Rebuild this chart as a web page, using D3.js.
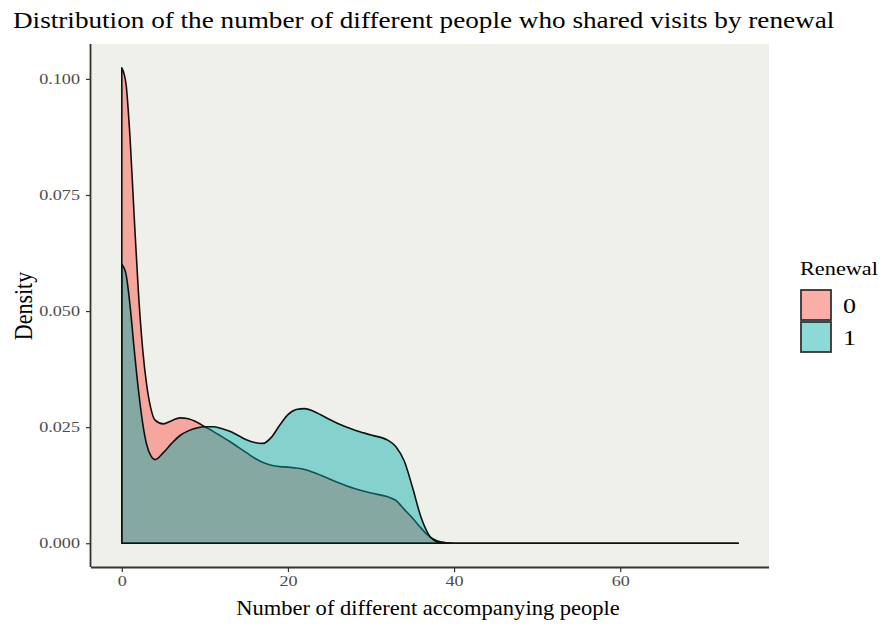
<!DOCTYPE html>
<html>
<head>
<meta charset="utf-8">
<script src="https://cdn.jsdelivr.net/npm/d3@7"></script>
<style>
  html, body { margin: 0; padding: 0; background: #ffffff; }
  svg text { font-family: "Liberation Serif", "DejaVu Serif", serif; }
</style>
</head>
<body>
<div id="chart"></div>
<script>
// ------- data -------
const xs = [0, 0.5, 1, 1.5, 2, 2.5, 3, 3.5, 4, 5, 6, 7, 8, 9, 10, 11, 12, 13, 14, 15, 16, 17, 18, 19, 20,
            21, 22, 23, 24, 26, 28, 30, 32, 33, 34, 35, 36, 37, 38, 39, 40, 50, 60, 74.2];
const density0 = [0.1024, 0.0990, 0.0870, 0.0700, 0.0540, 0.0420, 0.0340, 0.0290, 0.0265, 0.0257, 0.0264,
                  0.0270, 0.0268, 0.0261, 0.0251, 0.0241, 0.0230, 0.0219, 0.0207, 0.0195, 0.0183, 0.0174,
                  0.0168, 0.0165, 0.0164, 0.0162, 0.0159, 0.0153, 0.0146, 0.0131, 0.0118, 0.0108, 0.0100,
                  0.0092, 0.0073, 0.0054, 0.0033, 0.0015, 0.0005, 0.0001, 0, 0, 0, 0];
const density1 = [0.0601, 0.0580, 0.0510, 0.0416, 0.0330, 0.0260, 0.0212, 0.0188, 0.0180, 0.0195, 0.0215,
                  0.0232, 0.0242, 0.0248, 0.0251, 0.0251, 0.0247, 0.0241, 0.0232, 0.0223, 0.0217, 0.0215,
                  0.0228, 0.0254, 0.0277, 0.0288, 0.0290, 0.0285, 0.0276, 0.0258, 0.0244, 0.0233, 0.0222,
                  0.0208, 0.0177, 0.0120, 0.0057, 0.0017, 0.0003, 0.0001, 0, 0, 0, 0];
const groups = ["0", "1"];
const xTicks = [0, 20, 40, 60];
const yTicks = [0, 0.025, 0.05, 0.075, 0.1];

const TITLE = "Distribution of the number of different people who shared visits by renewal";
const X_LABEL = "Number of different accompanying people";
const Y_LABEL = "Density";
const LEGEND_TITLE = "Renewal";

(() => {
  const width = 892, height = 638;
  const panel = { left: 91, right: 769, top: 44, bottom: 567 };
  const fills = { "0": ["#F8766D", 0.6], "1": ["#00AAA8", 0.45] };
  const axisColor = "#333333";
  const tickText = "#4d4d4d";
  // the source image is wider than tall, so glyphs are stretched sideways
  const SX = 1.25;

  const svg = d3.select("#chart").append("svg")
    .attr("width", width).attr("height", height)
    .attr("viewBox", `0 0 ${width} ${height}`);

  // ------- helpers -------
  // place a text at (px,py) and scale it horizontally to the wanted width
  const addText = (str, px, py, size, targetW, anchor = "start") => {
    const t = svg.append("text")
      .attr("text-anchor", anchor)
      .attr("fill", "#000")
      .style("font-size", size + "px")
      .text(str);
    const f = targetW / t.node().getComputedTextLength();
    t.attr("transform", `translate(${px},${py}) scale(${f},1)`);
    return t;
  };

  const xMax = d3.max(xs);
  const yMax = d3.max(density0.concat(density1));

  // ggplot-style 5% expansion
  const x = d3.scaleLinear()
    .domain([-0.05 * xMax, 1.05 * xMax])
    .range([panel.left, panel.right]);
  const y = d3.scaleLinear()
    .domain([-0.05 * yMax, 1.05 * yMax])
    .range([panel.bottom, panel.top]);

  // panel background
  svg.append("rect")
    .attr("x", panel.left).attr("y", panel.top)
    .attr("width", panel.right - panel.left)
    .attr("height", panel.bottom - panel.top)
    .attr("fill", "#F0F0EB");

  // density areas (full outline, like geom_density)
  const series = [
    { key: "0", vals: density0 },
    { key: "1", vals: density1 }
  ];

  const line = d3.line()
    .x(d => x(d[0]))
    .y(d => y(d[1]))
    .curve(d3.curveMonotoneX);

  series.forEach(s => {
    const pts = xs.map((v, i) => [v, s.vals[i]]);
    const top = line(pts);
    const path = `${top}L${x(xs[xs.length - 1])},${y(0)}L${x(xs[0])},${y(0)}Z`;
    svg.append("path")
      .attr("d", path)
      .attr("fill", fills[s.key][0])
      .attr("fill-opacity", fills[s.key][1])
      .attr("stroke", "#111111")
      .attr("stroke-width", 1.6)
      .attr("stroke-linejoin", "round");
  });

  // axes
  const xAxis = svg.append("g")
    .attr("transform", `translate(0,${panel.bottom})`)
    .call(d3.axisBottom(x).tickValues(xTicks).tickSize(5).tickPadding(4).tickFormat(d3.format("d")));
  xAxis.select(".domain").attr("d", `M${panel.left},0.5H${panel.right}`);

  const yAxis = svg.append("g")
    .attr("transform", `translate(${panel.left},0)`)
    .call(d3.axisLeft(y).tickValues(yTicks).tickSize(5).tickPadding(6).tickFormat(d3.format(".3f")));
  yAxis.select(".domain").attr("d", `M-0.5,${panel.top}V${panel.bottom}`);

  [xAxis, yAxis].forEach(a => {
    a.select(".domain").attr("stroke", axisColor).attr("stroke-width", 1.8);
    a.selectAll(".tick line").attr("stroke", axisColor).attr("stroke-width", 1.2);
    a.selectAll(".tick text")
      .attr("fill", tickText)
      .style("font-family", "'Liberation Serif', serif")
      .style("font-size", "14.5px");
  });
  xAxis.selectAll(".tick text").attr("transform", `scale(${SX},1)`);
  yAxis.selectAll(".tick text")
    .attr("x", 0)
    .attr("transform", `translate(-11,0) scale(${SX},1)`);

  // titles
  addText(TITLE, 13, 28, 22.5, 822);
  addText(X_LABEL, 428, 615, 20, 384, "middle");

  svg.append("text")
    .attr("transform", `translate(31.5,306) scale(1.15,1) rotate(-90)`)
    .attr("text-anchor", "middle")
    .attr("fill", "#000")
    .style("font-size", "22px")
    .text(Y_LABEL);

  // legend
  addText(LEGEND_TITLE, 800, 275, 18, 78);

  groups.forEach((k, i) => {
    const ky = 290 + i * 32;
    svg.append("rect")
      .attr("x", 801).attr("y", ky)
      .attr("width", 30).attr("height", 30)
      .attr("fill", fills[k][0])
      .attr("fill-opacity", fills[k][1])
      .attr("stroke", "#333333")
      .attr("stroke-width", 1.8);
    addText(k, 843, ky + 23, 21.5, 13);
  });
})();
</script>
</body>
</html>
